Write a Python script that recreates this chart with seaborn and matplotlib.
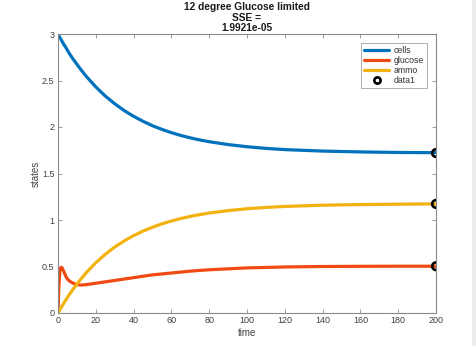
import numpy as np
import pandas as pd
import matplotlib
matplotlib.use("Agg")
import matplotlib.pyplot as plt
from matplotlib.lines import Line2D
from matplotlib.patches import Rectangle
from matplotlib.ticker import FuncFormatter
import seaborn as sns

# Simulated states over time (cells, glucose, ammonia)
time = [0, 0.5, 1, 1.5, 2, 3, 4, 5, 6, 8, 10, 12, 15, 20, 25, 30, 35, 40, 45,
        50, 55, 60, 65, 70, 75, 80, 90, 100, 110, 120, 140, 160, 180, 200]
cells = [3.00, 2.98, 2.96, 2.945, 2.927, 2.89, 2.86, 2.825, 2.79, 2.73, 2.674,
         2.62, 2.543, 2.431, 2.333, 2.250, 2.177, 2.115, 2.061, 2.014, 1.974,
         1.939, 1.909, 1.883, 1.861, 1.842, 1.811, 1.788, 1.770, 1.757, 1.741,
         1.732, 1.726, 1.724]
glucose = [0.0, 0.30, 0.45, 0.49, 0.49, 0.45, 0.40, 0.365, 0.345, 0.32, 0.305,
           0.30, 0.305, 0.32, 0.335, 0.35, 0.365, 0.38, 0.395, 0.41, 0.42,
           0.43, 0.44, 0.45, 0.458, 0.465, 0.475, 0.485, 0.49, 0.495, 0.50,
           0.502, 0.503, 0.503]
ammo = [0.0, 0.018, 0.036, 0.053, 0.070, 0.103, 0.136, 0.168, 0.199, 0.257,
        0.311, 0.362, 0.435, 0.541, 0.631, 0.709, 0.775, 0.832, 0.881, 0.922,
        0.959, 0.989, 1.016, 1.039, 1.058, 1.075, 1.101, 1.121, 1.135, 1.146,
        1.159, 1.166, 1.170, 1.173]

# Measured end-point data
data_time = [200, 200, 200]
data_values = [1.72, 0.503, 1.173]

series_names = ["cells", "glucose", "ammo"]
colors = {"cells": "#0072BD", "glucose": "#F04A14", "ammo": "#F2B20F"}

title_lines = ["12 degree Glucose limited", "SSE =", "1.9921e-05"]

df = pd.DataFrame({"time": time, "cells": cells, "glucose": glucose, "ammo": ammo})
long_df = df.melt(id_vars="time", value_vars=series_names,
                  var_name="series", value_name="value")

sns.set_theme(style="white")
plt.rcParams["font.family"] = ["Liberation Sans", "DejaVu Sans"]

fig = plt.figure(figsize=(4.76, 3.46), dpi=100)
ax = fig.add_axes([58 / 476, 1 - 313 / 346, 378 / 476, 279 / 346])

sns.lineplot(data=long_df, x="time", y="value", hue="series",
             hue_order=series_names, palette=colors, linewidth=2.3,
             legend=False, ax=ax, sort=False)
sns.scatterplot(x=data_time, y=data_values, marker="o", s=30,
                facecolor="none", edgecolor="black", linewidth=1.9,
                ax=ax, zorder=5, legend=False)

ax.set_xlim(0, 200)
ax.set_ylim(0, 3)
ax.set_xticks(np.arange(0, 201, 20))
ax.set_yticks(np.arange(0, 3.01, 0.5))
ax.yaxis.set_major_formatter(FuncFormatter(lambda v, _: f"{v:g}"))

spine_color = "#8a8a8a"
for side in ax.spines.values():
    side.set_color(spine_color)
    side.set_linewidth(0.8)
ax.tick_params(direction="in", length=3, width=0.6, color=spine_color,
               labelsize=6.5, labelcolor="#404040",
               top=True, right=True, bottom=True, left=True, pad=2.5)

ax.set_xlabel("time", fontsize=7, color="#404040", labelpad=2)
ax.set_ylabel("states", fontsize=7, color="#404040", labelpad=1)

ax.set_title("\n".join(title_lines), fontsize=7.3, fontweight="bold",
             color="#1a1a1a", linespacing=1.05, pad=2)

handles = [Line2D([0], [0], color=colors[n], lw=2.3) for n in series_names]
handles.append(Line2D([0], [0], marker="o", color="black", lw=0,
                      markerfacecolor="none", markeredgewidth=1.9, markersize=4.5))
leg = ax.legend(handles, series_names + ["data1"], loc="upper right",
                bbox_to_anchor=(1 - 9 / 378, 1 - 9 / 279), borderaxespad=0,
                fontsize=6.3, frameon=True, fancybox=False, handlelength=2.9,
                handletextpad=0.5, labelspacing=0.12, borderpad=0.35)
leg.get_frame().set_edgecolor("#9a9a9a")
leg.get_frame().set_linewidth(0.7)
for txt in leg.get_texts():
    txt.set_color("#333333")

# thin grey strip on the right edge of the canvas
fig.patches.append(Rectangle((472 / 476, 0), 4 / 476, 1, transform=fig.transFigure,
                             facecolor="#ececec", edgecolor="none"))

fig.savefig("out.png", dpi=100)
